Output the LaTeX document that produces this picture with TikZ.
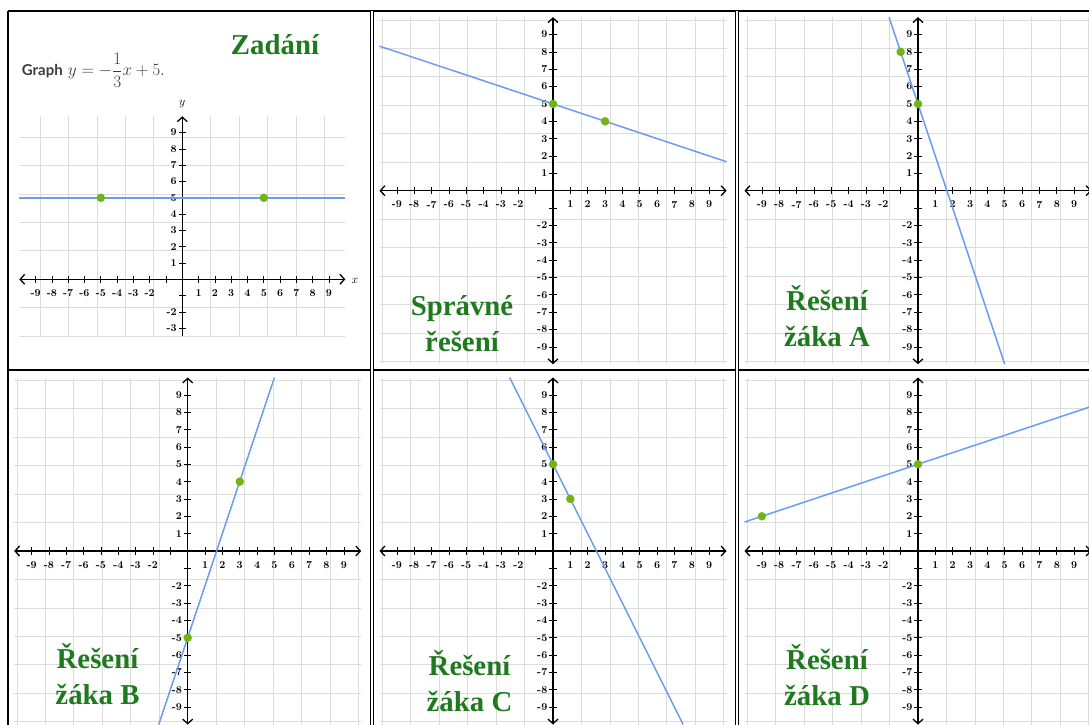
\documentclass[tikz,border=0pt]{standalone}
\usepackage{fontspec}
\newfontfamily\latofont{Lato}
\newfontfamily\verdictfont{Liberation Serif}
\usepackage{tikz}
\usetikzlibrary{arrows.meta}
\definecolor{GLine}{HTML}{6C9CEF}
\definecolor{GDot}{HTML}{72B416}
\definecolor{GGrid}{HTML}{DCDCDC}
\definecolor{GTitle}{HTML}{1F7A1F}
\definecolor{GInk}{HTML}{3B3D40}

\begin{document}
\begin{tikzpicture}[
  x=1pt,y=1pt,
  cell/.style n args={3}{shift={(#1pt,-#2pt)},x=#3pt,y=#3pt},
  gridpaper/.style={draw=GGrid,line width=0.8pt},
  axis/.style={line width=1.3pt,black},
  tipboth/.style={{Straight Barb[length=4.5pt,width=10pt]}-{Straight Barb[length=4.5pt,width=10pt]}},
  tipup/.style={-{Straight Barb[length=4.5pt,width=10pt]}},
  tick/.style={line width=0.7pt,black},
  ticklab/.style={font=\bfseries\fontsize{10.5}{12}\selectfont,inner sep=0pt},
  plotline/.style={draw=GLine,line width=1.5pt},
  ptdot/.style={circle,fill=GDot,minimum size=8.5pt,inner sep=0pt},
  verdict/.style={font=\verdictfont\bfseries\fontsize{28.8}{36}\selectfont,
    text=GTitle,align=center,inner sep=0pt},
  frame/.style={line width=2pt,black},
  divider/.style={double,double distance=2pt,line width=1pt,black}
]
  \useasboundingbox[fill=white] (0,0) rectangle (1089,-724);

  \foreach \ox/\oy/\ux/\ylo/\ybot/\ytip/\nm in {182.3/279.3/16.3/-3/-3.5/tipup/task,
      553/190.7/17.35/-9/-10/tipboth/ok,918/190.7/17.35/-9/-10/tipboth/a,
      187.7/551/17.35/-9/-10/tipboth/b,553/551/17.35/-9/-10/tipboth/c,
      918/551/17.35/-9/-10/tipboth/d}{
    \begin{scope}[cell={\ox}{\oy}{\ux}]
      \draw[gridpaper] (-10,\ybot) grid (10,10);
      \draw[axis,tipboth] (-10,0) -- (10,0);
      \draw[axis,\ytip] (0,\ybot) -- (0,10);
      \foreach \tk in {-9,...,9}{
        \ifnum\tk=0\else
          \draw[tick] ([yshift=-3.7pt]\tk,0) -- ([yshift=3.7pt]\tk,0);
          \ifnum\tk<\ylo\else\draw[tick] ([xshift=-3.7pt]0,\tk) -- ([xshift=3.7pt]0,\tk);\fi
        \fi}
      \foreach \tk in {-9,-8,-7,-6,-5,-4,-3,-2,1,2,3,4,5,6,7,8,9}{
        \node[ticklab,anchor=north] (\nm x\tk) at ([yshift=-10pt]\tk,0) {\tk};
        \ifnum\tk<\ylo\else\node[ticklab,anchor=east] (\nm y\tk) at ([xshift=-5.5pt]0,\tk) {\tk};\fi}
    \end{scope}}

  \begin{scope}[cell={182.3}{279.3}{16.3}]
    \draw[plotline] (-10,5) -- (10,5);
    \node[ptdot] (taskp1) at (-5,5) {};
    \node[ptdot] (taskp2) at (5,5) {};
    \node[font=\fontsize{12}{14}\selectfont] (taskxname) at (10.6,-0.1) {$x$};
    \node[font=\fontsize{12}{14}\selectfont] (taskyname) at (0,10.75) {$y$};
  \end{scope}
  \node[anchor=base west,inner sep=0pt,text=GInk,font=\fontsize{17}{20}\selectfont]
    (taskline) at (21.7,-75.7) {{\latofont\bfseries\fontsize{15}{18}\selectfont Graph}
    $y=-\displaystyle\frac{1}{3}x+5.$};
  \node[verdict,anchor=base] (tasktitle) at (275,-54) {Zadání};

  \begin{scope}[cell={553}{190.7}{17.35}]
    \draw[plotline] (-10,8.333) -- (10,1.667);
    \node[ptdot] (okp1) at (0,5) {};
    \node[ptdot] (okp2) at (3,4) {};
  \end{scope}
  \begin{scope}[cell={918}{190.7}{17.35}]
    \draw[plotline] (-1.667,10) -- (5,-10);
    \node[ptdot] (ap1) at (-1,8) {};
    \node[ptdot] (ap2) at (0,5) {};
  \end{scope}
  \begin{scope}[cell={187.7}{551}{17.35}]
    \draw[plotline] (-1.667,-10) -- (5,10);
    \node[ptdot] (bp1) at (3,4) {};
    \node[ptdot] (bp2) at (0,-5) {};
  \end{scope}
  \begin{scope}[cell={553}{551}{17.35}]
    \draw[plotline] (-2.5,10) -- (7.5,-10);
    \node[ptdot] (cp1) at (0,5) {};
    \node[ptdot] (cp2) at (1,3) {};
  \end{scope}
  \begin{scope}[cell={918}{551}{17.35}]
    \draw[plotline] (-10,1.667) -- (10,8.333);
    \node[ptdot] (dp1) at (-9,2) {};
    \node[ptdot] (dp2) at (0,5) {};
  \end{scope}

  \node[verdict,anchor=base] (okname) at (462,-351) {Správné\\řešení};
  \node[verdict,anchor=base] (aname) at (827,-346.7) {Řešení\\žáka A};
  \node[verdict,anchor=base] (bname) at (97.5,-704.3) {Řešení\\žáka B};
  \node[verdict,anchor=base] (cname) at (469.5,-711.7) {Řešení\\žáka C};
  \node[verdict,anchor=base] (dname) at (827,-705) {Řešení\\žáka D};

  \draw[frame] (8,-11) -- (1100,-11);
  \draw[frame] (8,-11) -- (8,-730);
  \draw[frame] (8,-370) -- (1100,-370);
  \foreach \vx in {372,737} {\draw[divider] (\vx,-11) -- (\vx,-730);}
\end{tikzpicture}
\end{document}
